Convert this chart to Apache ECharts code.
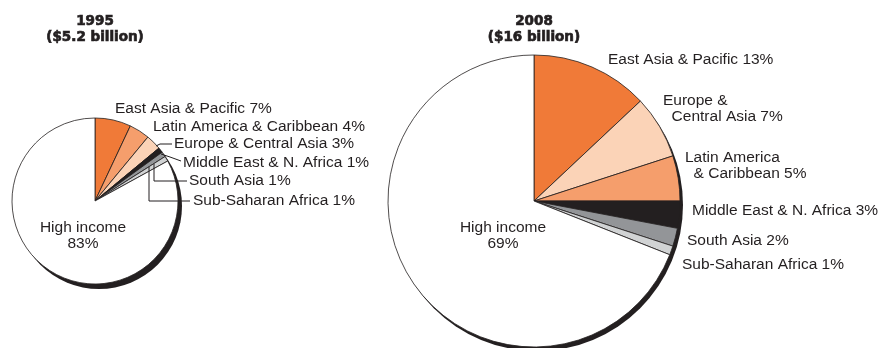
<!DOCTYPE html>
<html><head><meta charset="utf-8">
<script src="https://cdn.jsdelivr.net/npm/echarts@6/dist/echarts.min.js"></script>
<style>html,body{margin:0;padding:0;background:#fff}#c{width:879px;height:348px}</style>
</head><body><div id="c"></div>
<script>
const titles1995 = ['1995', '($5.2 billion)'];
const titles2008 = ['2008', '($16 billion)'];
const cats1995 = ['East Asia & Pacific','Latin America & Caribbean','Europe & Central Asia','Middle East & N. Africa','South Asia','Sub-Saharan Africa','High income'];
const vals1995 = [7,4,3,1,1,1,83];
const cats2008 = ['East Asia & Pacific','Europe & Central Asia','Latin America & Caribbean','Middle East & N. Africa','South Asia','Sub-Saharan Africa','High income'];
const vals2008 = [13,7,5,3,2,1,69];

const colorOf = {
  'East Asia & Pacific':'#f07a38',
  'Latin America & Caribbean':'#f59e6c',
  'Europe & Central Asia':'#fbd3b7',
  'Middle East & N. Africa':'#231f20',
  'South Asia':'#939598',
  'Sub-Saharan Africa':'#d1d3d4',
  'High income':'#ffffff'
};
const wrap2008 = {
  'Europe & Central Asia':'Europe &\n  Central Asia',
  'Latin America & Caribbean':'Latin America\n  & Caribbean'
};
const INK = '#231f20';
const FONT = '"Liberation Sans", Arial, sans-serif';

// label placement (layout, not data)
const lay1995 = [
  {x:115,y:109},{x:153,y:127},{x:174,y:144,line:[[156,146],[160,144],[172,144]]},
  {x:183,y:163,line:[[161,154],[170,157],[181,161]]},
  {x:189,y:181,line:[[154,164],[154,181],[187,181]]},
  {x:193,y:201,line:[[149,167],[149,201],[190,201]]},
  {x:83,y:236,center:true}
];
const lay2008 = [
  {x:608,y:60},{x:663,y:109},{x:685,y:165.5},{x:692,y:211},{x:687,y:241},{x:682,y:265},
  {x:503,y:236,center:true}
];

function buildData(cats, vals, lay, wrap, withLabels){
  return cats.map((c,i)=>({
    name:c, value:vals[i],
    itemStyle: withLabels ? {color:'rgba(0,0,0,0)', borderWidth:0} : {color:colorOf[c]},
    labelLine:{show:withLabels && !!lay[i].line},
    label:{show:withLabels, formatter:()=>{
      const nm = (wrap && wrap[c]) || c;
      return c==='High income' ? nm+'\n'+vals[i]+'%' : nm+' '+vals[i]+'%';
    }}
  }));
}
function layoutFn(lay){
  return function(p){
    const L = lay[p.dataIndex];
    const o = {x:L.x, y:L.y, align:L.center?'center':'left', verticalAlign:'middle'};
    if (L.line) o.labelLinePoints = L.line;
    return o;
  };
}
function pie(center, r, cats, vals, lay, wrap, withLabels, z){
  return {
    type:'pie', center:center, radius:r, startAngle:90, clockwise:true,
    avoidLabelOverlap:false, animation:false, z:z, silent:withLabels,
    itemStyle:{borderColor:INK, borderWidth:withLabels?0:0.8},
    label:{show:withLabels, position:'outside', fontSize:15.5, fontFamily:FONT, color:INK, lineHeight:16},
    labelLine:{show:withLabels, length:5, length2:5, smooth:false, minTurnAngle:0, maxSurfaceAngle:180,
      lineStyle:{color:INK, width:1}},
    emphasis:{disabled:true},
    labelLayout: withLabels ? layoutFn(lay) : undefined,
    data:buildData(cats, vals, lay, wrap, withLabels)
  };
}
function shadowPie(center, r){
  return {
    type:'pie', center:center, radius:r, silent:true, animation:false, z:2,
    label:{show:false}, labelLine:{show:false},
    itemStyle:{color:INK},
    emphasis:{disabled:true},
    data:[{value:1, name:'shadow'}]
  };
}
function titleText(lines, x){
  return {
    type:'text', x:x, y:13, z:10,
    style:{text:lines.join('\n'), align:'center', verticalAlign:'top',
      font:'bold 13.5px "DejaVu Sans", sans-serif', fill:INK, stroke:INK, lineWidth:0.7, lineHeight:16}
  };
}

const chart = echarts.init(document.getElementById('c'), null, {renderer:'canvas'});
chart.setOption({
  backgroundColor:'#fff',
  animation:false,
  graphic:[titleText(titles1995,95), titleText(titles2008,534)],
  series:[
    shadowPie([99,206],83),
    pie([95,201],83,cats1995,vals1995,lay1995,null,false,3),
    pie([95,201],83,cats1995,vals1995,lay1995,null,true,5),
    shadowPie([537,205],146),
    pie([534,201],146,cats2008,vals2008,lay2008,wrap2008,false,3),
    pie([534,201],146,cats2008,vals2008,lay2008,wrap2008,true,5)
  ]
});
</script></body></html>
